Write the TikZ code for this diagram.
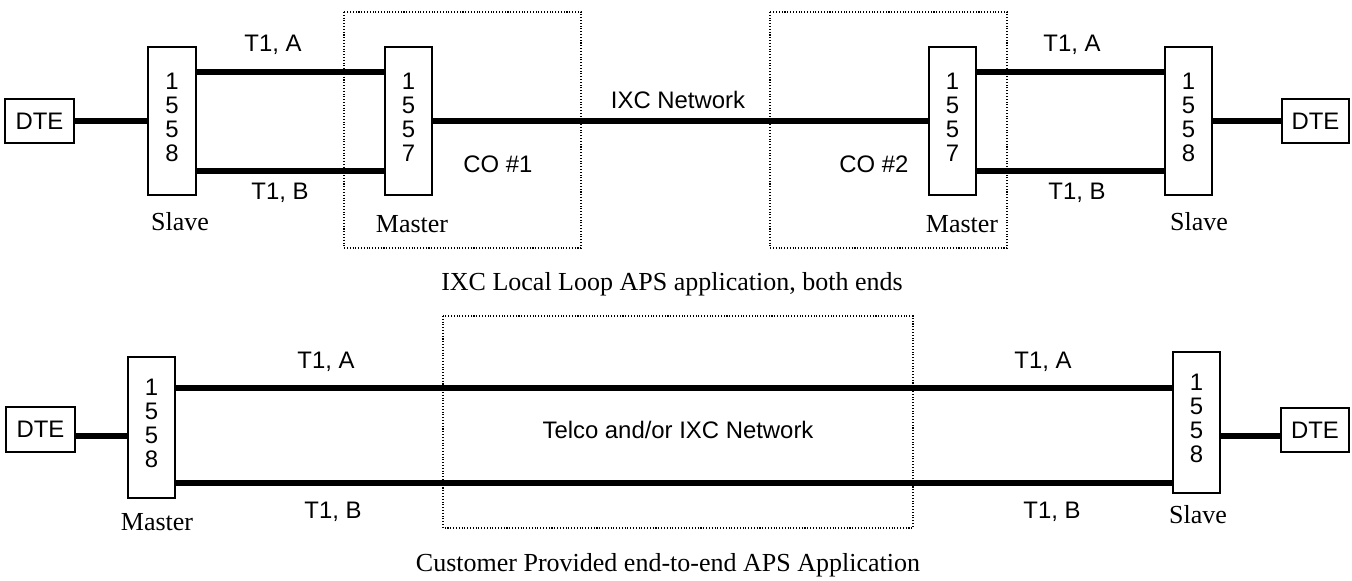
\documentclass[tikz,border=0pt]{standalone}
\usepackage{fontspec}
\setmainfont{Liberation Serif}
\setsansfont{Liberation Sans}
\usetikzlibrary{positioning}

\begin{document}
\begin{tikzpicture}[x=0.02cm, y=-0.02cm,
    unit/.style={draw, line width=0.9pt, minimum width=0.95cm, align=center, inner sep=0pt,
        font=\sffamily\fontsize{13.6}{13.6}\selectfont},
    dte/.style={draw, line width=0.9pt, minimum width=1.37cm, minimum height=0.89cm, inner sep=0pt,
        font=\sffamily\fontsize{13.6}{16}\selectfont},
    link/.style={line width=3.1pt},
    site/.style={densely dotted, line width=0.6pt},
    tag/.style={font=\sffamily\fontsize{13.6}{16}\selectfont},
    role/.style={font=\fontsize{14.8}{17}\selectfont}]
    \useasboundingbox (0,0) rectangle (1352,581);

    % Top: IXC local loop, both ends
    \node[dte] (dteA) at (39.5,121) {DTE};
    \node[unit, minimum height=2.96cm] (slvA) at (172,121) {1\\5\\5\\8\\[-9pt]};
    \node[unit, minimum height=2.96cm] (mstA) at (408.5,121) {1\\5\\5\\7\\[-9pt]};
    \node[unit, minimum height=2.96cm] (mstB) at (952.5,121) {1\\5\\5\\7\\[-9pt]};
    \node[unit, minimum height=2.96cm] (slvB) at (1188.5,121) {1\\5\\5\\8\\[-9pt]};
    \node[dte, minimum width=1.34cm] (dteB) at (1315.5,121) {DTE};

    \coordinate (ta) at (0,72);
    \coordinate (tb) at (0,171);
    \draw[link] (dteA) -- (slvA);
    \draw[link] (slvA.east |- ta) -- (mstA.west |- ta);
    \draw[link] (slvA.east |- tb) -- (mstA.west |- tb);
    \draw[link] (mstA) -- (mstB);
    \draw[link] (mstB.east |- ta) -- (slvB.west |- ta);
    \draw[link] (mstB.east |- tb) -- (slvB.west |- tb);
    \draw[link] (slvB) -- (dteB);

    % Central offices
    \draw[site] (344,12) rectangle (581,248);
    \draw[site] (770,12) rectangle (1007,248);

    \node[tag] (taA) at (273,45) {T1, A};
    \node[tag] (tbA) at (280,193) {T1, B};
    \node[tag] (taB) at (1072,45) {T1, A};
    \node[tag] (tbB) at (1077,193) {T1, B};
    \node[tag] (ixc) at (678,100) {IXC Network};
    \node[tag] (coA) at (498,164) {CO \#1};
    \node[tag] (coB) at (874,164) {CO \#2};
    \node[role] (rsA) at (180,222) {Slave};
    \node[role] (rmA) at (412,224) {Master};
    \node[role] (rmB) at (962,224) {Master};
    \node[role] (rsB) at (1199,222) {Slave};
    \node[role] (capA) at (672,284) {IXC Local Loop APS application, both ends};

    % Bottom: customer provided end-to-end
    \node[dte] (dteC) at (40.5,429.5) {DTE};
    \node[unit, minimum height=2.82cm] (mstC) at (151.5,427.5) {1\\5\\5\\8\\[-9pt]};
    \node[unit, minimum height=2.82cm] (slvC) at (1196.5,422.5) {1\\5\\5\\8\\[-9pt]};
    \node[dte] (dteD) at (1315,430) {DTE};

    \coordinate (ba) at (0,388);
    \coordinate (bb) at (0,483);
    \coordinate (bd) at (0,436);
    \draw[link] (dteC.east |- bd) -- (mstC.west |- bd);
    \draw[link] (mstC.east |- ba) -- (slvC.west |- ba);
    \draw[link] (mstC.east |- bb) -- (slvC.west |- bb);
    \draw[link] (slvC.east |- bd) -- (dteD.west |- bd);

    \draw[site] (443,316) rectangle (913,528);

    \node[tag] (taC) at (326,362) {T1, A};
    \node[tag] (tbC) at (333,512) {T1, B};
    \node[tag] (taD) at (1043,362) {T1, A};
    \node[tag] (tbD) at (1052,512) {T1, B};
    \node[tag] (net) at (678,430) {Telco and/or IXC Network};
    \node[role] (rmC) at (157,522) {Master};
    \node[role] (rsD) at (1198,515) {Slave};
    \node[role] (capB) at (668,565) {Customer Provided end-to-end APS Application};
\end{tikzpicture}
\end{document}
